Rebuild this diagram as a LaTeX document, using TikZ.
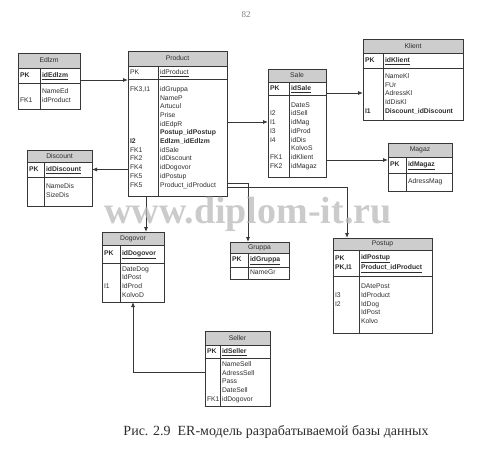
\documentclass[tikz,border=0pt]{standalone}
\usepackage{fontspec}
\setmainfont{Liberation Serif}
\setsansfont{Liberation Sans}
\usepackage{tikz}
\usetikzlibrary{arrows.meta, positioning, calc}
\definecolor{linecolor}{RGB}{55, 55, 55}
\definecolor{headcolor}{RGB}{205, 205, 205}
\definecolor{textcolor}{RGB}{45, 45, 45}
\definecolor{markcolor}{RGB}{185, 185, 185}
\newcommand{\entfont}{\sffamily\fontsize{6.8}{8.7}\selectfont}
\tikzstyle{ehead} = [draw=linecolor, rectangle, anchor=north west, inner sep=0pt, outer sep=0pt, fill=headcolor, text=textcolor, font=\entfont, line width=0.9pt]
\tikzstyle{ecell} = [draw=linecolor, rectangle, inner xsep=2pt, inner ysep=0pt, outer sep=0pt, align=left, text=textcolor, font=\entfont, line width=0.9pt, execute at begin node=\strut, execute at end node=\strut]
\tikzstyle{arrow} = [line width=0.8pt,->,>={Latex[length=5pt,width=4pt]},color=linecolor]

\begin{document}
\begin{tikzpicture}[x=1pt, y=-1pt]
\useasboundingbox (0,0) rectangle (495,460);

% Tables
\node (edlzm) [ehead, minimum width=62, minimum height=15] at (18,53) {Edlzm};
\node (edlzmpkk) [ecell, text width=18, minimum height=15, anchor=north west] at (edlzm.south west) {\textbf{PK}};
\node (edlzmpka) [ecell, text width=36, minimum height=15, right=0pt of edlzmpkk] {\underline{\textbf{idEdlzm}}};
\node (edlzmbk) [ecell, text width=18, minimum height=26, anchor=north west] at (edlzmpkk.south west) {~\\FK1};
\node (edlzmba) [ecell, text width=36, minimum height=26, right=0pt of edlzmbk] {NameEd\\idProduct};

\node (product) [ehead, minimum width=99, minimum height=15] at (128,51) {Product};
\node (prodpkk) [ecell, text width=26, minimum height=13, anchor=north west] at (product.south west) {PK};
\node (prodpka) [ecell, text width=65, minimum height=13, right=0pt of prodpkk] {\underline{idProduct}};
\node (prodbk) [ecell, text width=26, minimum height=117, anchor=north west] at (prodpkk.south west) {FK3,I1\\~\\~\\~\\~\\~\\\textbf{I2}\\FK1\\FK2\\FK4\\FK5\\FK5};
\node (prodba) [ecell, text width=65, minimum height=117, right=0pt of prodbk] {idGruppa\\NameP\\Artucul\\Prise\\idEdpR\\\textbf{Postup\_idPostup}\\\textbf{Edlzm\_idEdlzm}\\idSale\\idDiscount\\idDogovor\\idPostup\\Product\_idProduct};

\node (sale) [ehead, minimum width=58, minimum height=13] at (268,69) {Sale};
\node (salepkk) [ecell, text width=17, minimum height=13, anchor=north west] at (sale.south west) {\textbf{PK}};
\node (salepka) [ecell, text width=33, minimum height=13, right=0pt of salepkk] {\underline{\textbf{idSale}}};
\node (salebk) [ecell, text width=17, minimum height=82, anchor=north west] at (salepkk.south west) {~\\I2\\I1\\I3\\I4\\~\\FK1\\FK2};
\node (saleba) [ecell, text width=33, minimum height=82, right=0pt of salebk] {DateS\\idSell\\idMag\\idProd\\idDis\\KolvoS\\idKlient\\idMagaz};

\node (klient) [ehead, minimum width=100, minimum height=14] at (363,39) {Klient};
\node (klientpkk) [ecell, text width=16, minimum height=15, anchor=north west] at (klient.south west) {\textbf{PK}};
\node (klientpka) [ecell, text width=76, minimum height=15, right=0pt of klientpkk] {\underline{\textbf{idKlient}}};
\node (klientbk) [ecell, text width=16, minimum height=52, anchor=north west] at (klientpkk.south west) {~\\~\\~\\~\\\textbf{I1}};
\node (klientba) [ecell, text width=76, minimum height=52, right=0pt of klientbk] {NameKl\\FUr\\AdressKl\\IdDisKl\\\textbf{Discount\_idDiscount}};

\node (discount) [ehead, minimum width=65, minimum height=12] at (27,150) {Discount};
\node (discpkk) [ecell, text width=13, minimum height=15, anchor=north west] at (discount.south west) {\textbf{PK}};
\node (discpka) [ecell, text width=44, minimum height=15, right=0pt of discpkk] {\underline{\textbf{idDiscount}}};
\node (discbk) [ecell, text width=13, minimum height=29, anchor=north west] at (discpkk.south west) {~\\~};
\node (discba) [ecell, text width=44, minimum height=29, right=0pt of discbk] {NameDis\\SizeDis};

\node (magaz) [ehead, minimum width=64, minimum height=14] at (388,143) {Magaz};
\node (magazpkk) [ecell, text width=14, minimum height=16, anchor=north west] at (magaz.south west) {\textbf{PK}};
\node (magazpka) [ecell, text width=42, minimum height=16, right=0pt of magazpkk] {\underline{\textbf{idMagaz}}};
\node (magazbk) [ecell, text width=14, minimum height=18, anchor=north west] at (magazpkk.south west) {~};
\node (magazba) [ecell, text width=42, minimum height=18, right=0pt of magazbk] {AdressMag};

\node (dogovor) [ehead, minimum width=62, minimum height=13] at (102,232) {Dogovor};
\node (dogpkk) [ecell, text width=14, minimum height=18, anchor=north west] at (dogovor.south west) {\textbf{PK}};
\node (dogpka) [ecell, text width=40, minimum height=18, right=0pt of dogpkk] {\underline{\textbf{idDogovor}}};
\node (dogbk) [ecell, text width=14, minimum height=39, anchor=north west] at (dogpkk.south west) {~\\~\\I1\\~};
\node (dogba) [ecell, text width=40, minimum height=39, right=0pt of dogbk] {DateDog\\IdPost\\IdProd\\KolvoD};

\node (gruppa) [ehead, minimum width=59, minimum height=11] at (230,242) {Gruppa};
\node (grpkk) [ecell, text width=14, minimum height=14, anchor=north west] at (gruppa.south west) {\textbf{PK}};
\node (grpka) [ecell, text width=37, minimum height=14, right=0pt of grpkk] {\underline{\textbf{idGruppa}}};
\node (grbk) [ecell, text width=14, minimum height=12, anchor=north west] at (grpkk.south west) {~};
\node (grba) [ecell, text width=37, minimum height=12, right=0pt of grbk] {NameGr};

\node (postup) [ehead, minimum width=99, minimum height=12] at (333,238) {Postup};
\node (postpkk) [ecell, text width=22, minimum height=26, anchor=north west] at (postup.south west) {\textbf{PK}\\\textbf{PK,I1}};
\node (postpka) [ecell, text width=69, minimum height=26, right=0pt of postpkk] {\underline{\textbf{idPostup}}\\\underline{\textbf{Product\_idProduct}}};
\node (postbk) [ecell, text width=22, minimum height=57, anchor=north west] at (postpkk.south west) {~\\I3\\I2\\~\\~};
\node (postba) [ecell, text width=69, minimum height=57, right=0pt of postbk] {DAtePost\\IdProduct\\IdDog\\IdPost\\Kolvo};

\node (seller) [ehead, minimum width=65, minimum height=14] at (205,331) {Seller};
\node (sellpkk) [ecell, text width=11, minimum height=13, anchor=north west] at (seller.south west) {\textbf{PK}};
\node (sellpka) [ecell, text width=46, minimum height=13, right=0pt of sellpkk] {\underline{\textbf{idSeller}}};
\node (sellbk) [ecell, text width=11, minimum height=48, anchor=north west] at (sellpkk.south west) {~\\~\\~\\~\\FK1};
\node (sellba) [ecell, text width=46, minimum height=48, right=0pt of sellbk] {NameSell\\AdressSell\\Pass\\DateSell\\idDogovor};

% Connectors
\coordinate (prodin) at ([yshift=3pt]edlzmpka.south east);
\draw [arrow] (prodin) -- (prodin -| prodbk.west);

\coordinate (salein) at ([yshift=14pt]salebk.west);
\draw [arrow] (prodba.east |- salein) -- (salein);

\draw [arrow] (prodbk.west |- discpka.east) -- (discpka.east);

\coordinate (dogin) at ([xshift=13pt]dogovor.north);
\draw [arrow] (prodbk.south -| dogin) -- (dogin);

\coordinate (grin) at ([xshift=18pt]gruppa.north west);
\draw [arrow] ([yshift=13pt]prodba.south east) -| (grin);

\coordinate (postin) at ([xshift=14pt]postup.north west);
\draw [arrow] ([yshift=9pt]prodba.south east) -| (postin);

\coordinate (saleout) at ([yshift=2pt]salepka.south east);
\draw [arrow] (saleout) -- (saleout -| klientbk.west);

\coordinate (magin) at ([yshift=-3pt]magazpkk.north west);
\draw [arrow] (saleba.east |- magin) -- (magin);

\coordinate (dogout) at (dogovor.north |- dogbk.south);
\draw [arrow] ([yshift=10pt]sellbk.west) -| (dogout);

% Page text
\node (mark) [text=markcolor, opacity=0.75, font=\fontsize{38}{38}\selectfont\bfseries] at (248,214) {www.diplom-it.ru};
\node (pagenum) [text=gray, font=\fontsize{9}{9}\selectfont] at (246,15) {82};
\node (caption) [text=textcolor, font=\fontsize{14}{14}\selectfont] at (276,432) {Рис. 2.9\ \ ER-модель разрабатываемой базы данных};

\end{tikzpicture}
\end{document}
